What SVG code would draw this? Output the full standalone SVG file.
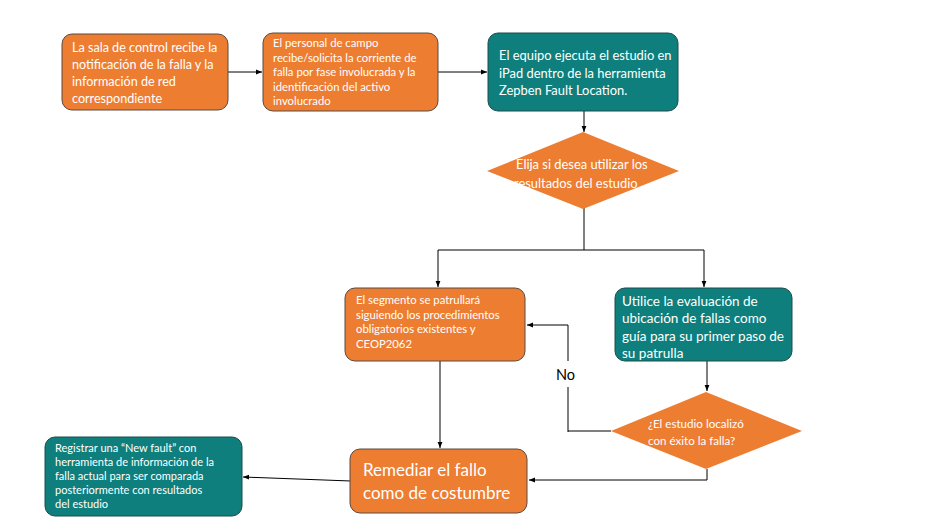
<svg xmlns="http://www.w3.org/2000/svg" width="944" height="531" viewBox="0 0 944 531">
<defs>
<style>
.bg{fill:#ffffff}
.or{fill:#ED7D31;stroke:#5a4a40;stroke-width:1}
.te{fill:#0E7F7D;stroke:#1d4d4c;stroke-width:1}
.dm{fill:#ED7D31;stroke:none}
.t{font-family:Lato,"Liberation Sans",sans-serif;fill:#ffffff}
.m{font-size:11.3px}
.c{stroke:#000000;stroke-width:1;fill:none}
.g{stroke:#7f7f7f;stroke-width:2;fill:none}
</style>
<marker id="ar" viewBox="0 0 10 10" refX="10" refY="5" markerWidth="6" markerHeight="6" orient="auto" markerUnits="userSpaceOnUse">
<path d="M0,1 L10,5 L0,9 z" fill="#000000"/>
</marker>
</defs>
<rect class="bg" x="0" y="0" width="944" height="531"/>

<g id="connectors">
<path class="c" d="M228,72 H262" marker-end="url(#ar)"/>
<path class="c" d="M438,72 H487" marker-end="url(#ar)"/>
<path class="c" d="M584,111 V132" marker-end="url(#ar)"/>
<path class="c" d="M584,208 V250 H438 V287" marker-end="url(#ar)"/>
<path class="c" d="M584,250 H704 V287" marker-end="url(#ar)"/>
<path class="c" d="M440,361 V448" marker-end="url(#ar)"/>
<path class="c" d="M707,361 V391" marker-end="url(#ar)"/>
<path class="c" d="M707,469 V480 H529" marker-end="url(#ar)"/>
<path class="g" d="M611,431 H568"/>
<path class="c" d="M568,432 V387"/>
<path class="c" d="M568,361 V325 H527" marker-end="url(#ar)"/>
<path class="c" d="M351,481 L243,477" marker-end="url(#ar)"/>
<text x="556" y="380" font-family="Lato,'Liberation Sans',sans-serif" font-size="14.5" fill="#000000">No</text>
</g>

<g id="n1">
<rect class="or" x="62" y="34" width="166" height="76" rx="10"/>
<text class="t" font-size="12.6"><tspan x="72" y="52">La sala de control recibe la</tspan><tspan x="72" y="69">notificación de la falla y la</tspan><tspan x="72" y="86">información de red</tspan><tspan x="72" y="103">correspondiente</tspan></text>
</g>

<g id="n2">
<rect class="or" x="263" y="33" width="175" height="78" rx="10"/>
<text class="t m"><tspan x="273" y="47">El personal de campo</tspan><tspan x="273" y="62">recibe/solicita la corriente de</tspan><tspan x="273" y="76">falla por fase involucrada y la</tspan><tspan x="273" y="91">identificación del activo</tspan><tspan x="273" y="105">involucrado</tspan></text>
</g>

<g id="n3">
<rect class="te" x="488" y="33" width="190" height="78" rx="10"/>
<text class="t" font-size="12.9"><tspan x="499" y="60">El equipo ejecuta el estudio en</tspan><tspan x="499" y="78">iPad dentro de la herramienta</tspan><tspan x="499" y="95">Zepben Fault Location.</tspan></text>
</g>

<g id="d1">
<polygon class="dm" points="583,132 679,171 583,209 487,171"/>
<text class="t" font-size="12.9"><tspan x="516" y="169">Elija si desea utilizar los</tspan><tspan x="514" y="188">resultados del estudio</tspan></text>
</g>

<g id="n4">
<rect class="or" x="345" y="288" width="180" height="73" rx="10"/>
<text class="t m"><tspan x="356" y="304">El segmento se patrullará</tspan><tspan x="356" y="319">siguiendo los procedimientos</tspan><tspan x="356" y="333">obligatorios existentes y</tspan><tspan x="356" y="348">CEOP2062</tspan></text>
</g>

<g id="n5">
<rect class="te" x="615" y="288" width="177" height="73" rx="10"/>
<text class="t" font-size="13.5"><tspan x="622" y="306">Utilice la evaluación de</tspan><tspan x="622" y="323">ubicación de fallas como</tspan><tspan x="622" y="341">guía para su primer paso de</tspan><tspan x="622" y="358">su patrulla</tspan></text>
</g>

<g id="d2">
<polygon class="dm" points="706,392 802,431 706,469 611,431"/>
<text class="t" font-size="11.6"><tspan x="648" y="428">¿El estudio localizó</tspan><tspan x="648" y="445">con éxito la falla?</tspan></text>
</g>

<g id="n6">
<rect class="or" x="350" y="449" width="177" height="64" rx="10"/>
<text class="t" font-size="17"><tspan x="363" y="476">Remediar el fallo</tspan><tspan x="363" y="499">como de costumbre</tspan></text>
</g>

<g id="n7">
<rect class="te" x="45" y="437" width="197" height="79" rx="10"/>
<text class="t" font-size="11"><tspan x="55" y="452">Registrar una “New fault” con</tspan><tspan x="55" y="466">herramienta de información de la</tspan><tspan x="55" y="480">falla actual para ser comparada</tspan><tspan x="55" y="494">posteriormente con resultados</tspan><tspan x="55" y="508">del estudio</tspan></text>
</g>
</svg>
